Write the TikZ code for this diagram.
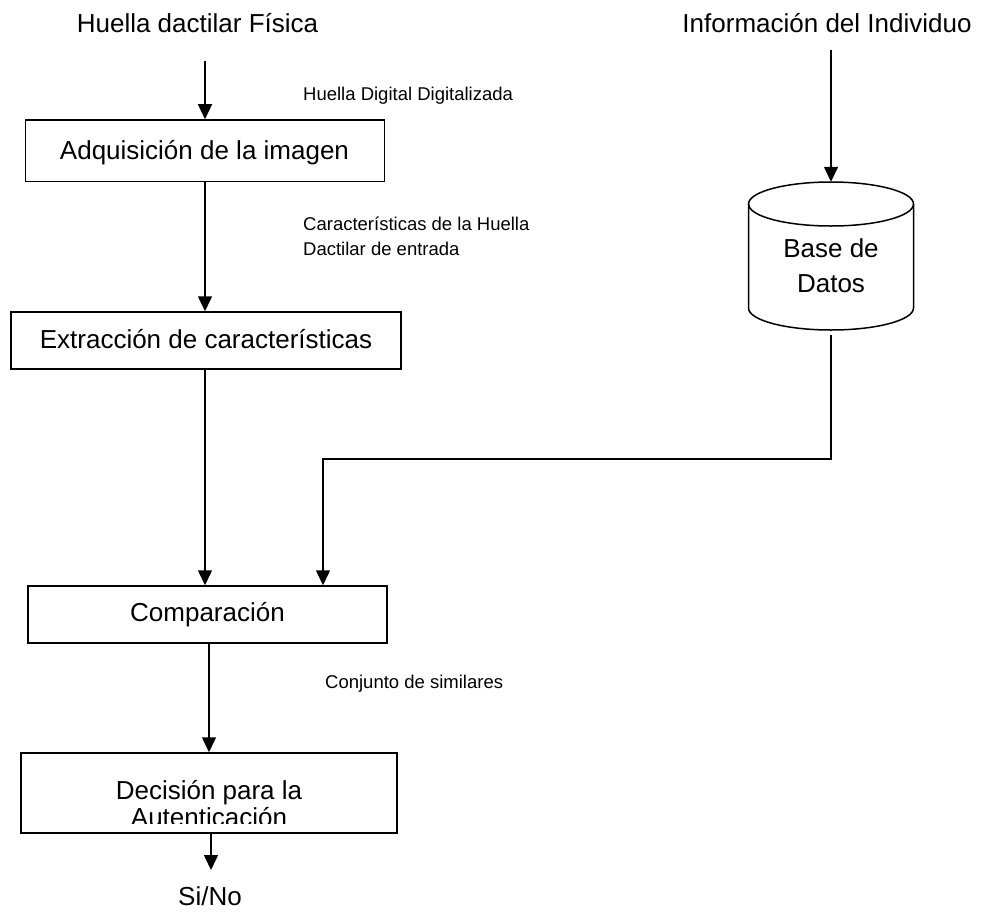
\documentclass[tikz,border=0pt]{standalone}
\usepackage{fontspec}
\setmainfont{Liberation Sans}
\usetikzlibrary{arrows.meta}
\begin{document}
\begin{tikzpicture}[x=1pt,y=-1pt,
  big/.style={font=\fontsize{26}{30}\selectfont, inner sep=0pt, anchor=base},
  small/.style={font=\fontsize{18.5}{25}\selectfont, inner sep=0pt, anchor=base west},
  stage/.style={draw, line width=1.5pt, inner sep=0pt},
  flow/.style={line width=1.5pt, -{Triangle[length=15pt,width=14pt]}},
  plain/.style={line width=1.5pt}]
\useasboundingbox (0,0) rectangle (986,911);

% inputs
\node[big] (huella) at (197.5,32) {Huella dactilar Física};
\node[big] (info) at (827,32) {Información del Individuo};

% processing stages
\node[stage, minimum width=359pt, minimum height=61.5pt] (adq) at (205.15,150.7) {};
\node[big] (adqt) at (204.5,159) {Adquisición de la imagen};

\node[stage, minimum width=390pt, minimum height=57pt] (ext) at (206,340.5) {};
\node[big] (extt) at (206,348.3) {Extracción de características};

\node[stage, minimum width=359pt, minimum height=57pt] (comp) at (207.5,614.5) {};
\node[big] (compt) at (207.5,621.7) {Comparación};

\node[stage, minimum width=376pt, minimum height=80pt] (dec) at (209,793) {};
\node[big] (dect) at (209,799) {Decisión para la};
% second line is cut off by the text area of the box
\begin{scope}
  \clip (21,753) rectangle (397,823);
  \node[big] (dect2) at (209,826) {Autenticación};
\end{scope}

\node[big] (sino) at (210,905) {Si/No};

% database cylinder
\node[minimum width=165pt, minimum height=148pt, inner sep=0pt] (db) at (831,256) {};
\draw[plain] (748.5,204) -- (748.5,308)
  arc[start angle=180, end angle=360, x radius=82.5pt, y radius=22pt] -- (913.5,204);
\draw[plain] (831,204) ellipse [x radius=82.5pt, y radius=22pt];
\node[big, align=center] (dbt1) at (831,257) {Base de};
\node[big, align=center] (dbt2) at (831,292) {Datos};

% flow labels
\node[small] (lbl1) at (303,100) {Huella Digital Digitalizada};
\node[small] (lbl2) at (303,230) {Características de la Huella};
\node[small] (lbl3) at (303,255) {Dactilar de entrada};
\node[small] (lbl4) at (325,688) {Conjunto de similares};

% connectors
\coordinate (hin) at (205,61);
\coordinate (iin) at (831,50);
\coordinate (dbout) at (831,335);
\coordinate (join) at (323,459);
\coordinate (sinoin) at (211,870);

\draw[flow] (hin) -- (hin |- adq.north);
\draw[flow] (iin) -- (db.north);
\draw[flow] (adq.south -| hin) -- (hin |- ext.north);
\draw[flow] (ext.south -| hin) -- (hin |- comp.north);
\draw[flow] (dbout) |- (join) -- (join |- comp.north);
\draw[flow] (comp.south -| dec.north) -- (dec.north);
\draw[flow] (dec.south -| sinoin) -- (sinoin);
\end{tikzpicture}
\end{document}
